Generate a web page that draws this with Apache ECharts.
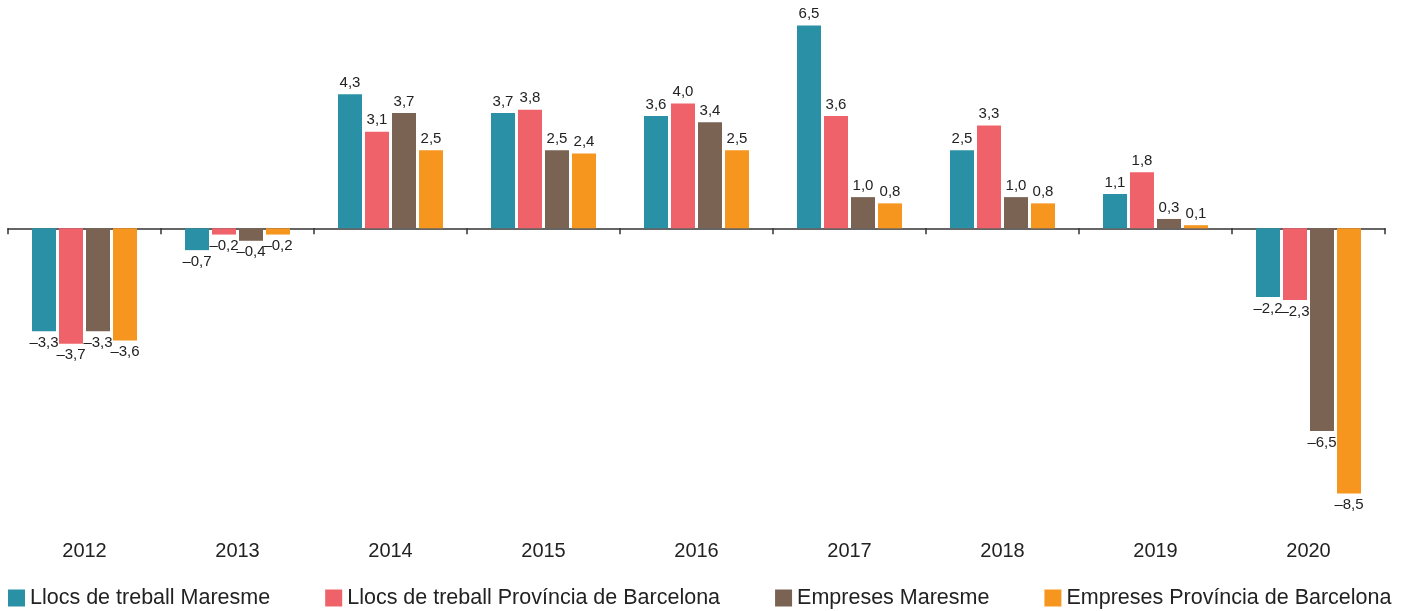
<!DOCTYPE html>
<html><head><meta charset="utf-8">
<script src="https://cdn.jsdelivr.net/npm/echarts@6/dist/echarts.min.js"></script>
<style>html,body{margin:0;padding:0;background:#fff}#c{width:1402px;height:611px}</style>
</head><body><div id="c"></div>
<script>
const years = ['2012','2013','2014','2015','2016','2017','2018','2019','2020'];
const seriesNames = ['Llocs de treball Maresme','Llocs de treball Província de Barcelona','Empreses Maresme','Empreses Província de Barcelona'];
const llocsMaresme = [-3.3,-0.7,4.3,3.7,3.6,6.5,2.5,1.1,-2.2];
const llocsBarcelona = [-3.7,-0.2,3.1,3.8,4.0,3.6,3.3,1.8,-2.3];
const empresesMaresme = [-3.3,-0.4,3.7,2.5,3.4,1.0,1.0,0.3,-6.5];
const empresesBarcelona = [-3.6,-0.2,2.5,2.4,2.5,0.8,0.8,0.1,-8.5];
const colors = ['#2a90a5','#f0626a','#7a6353','#f6961e'];

const FONT = '"Liberation Sans", Arial, Helvetica, sans-serif';
function fmt(v){ const s = Math.abs(v).toFixed(1).replace('.', ','); return v < 0 ? '\u2013' + s : s; }
function mk(name, arr, color){
  return {
    name, type:'bar', xAxisIndex:0, barWidth:24, barGap:'12.5%',
    itemStyle:{color},
    data: arr.map(v => ({value:v, label:{position: v < 0 ? 'bottom' : 'top'}})),
    label:{show:true, formatter:p=>fmt(p.value), fontSize:15, color:'#222', fontFamily:FONT, distance:4},
    animation:false
  };
}
const chart = echarts.init(document.getElementById('c'));
chart.setOption({
  animation:false,
  grid:{left:8, right:17, top:10, height:499, containLabel:false, outerBoundsMode:'none'},
  legend:{
    bottom:2, left:8, padding:0, icon:'rect', itemWidth:17, itemHeight:17, itemGap:55,
    textStyle:{fontSize:21.5, color:'#222', fontFamily:FONT},
    data: seriesNames
  },
  xAxis:[
    {type:'category', data:years, position:'bottom',
     axisLine:{show:false, onZero:false}, axisTick:{show:false},
     axisLabel:{fontSize:20, color:'#222', fontFamily:FONT, margin:32}},
    {type:'category', data:years, position:'bottom',
     axisLine:{show:true, onZero:true, lineStyle:{color:'#333', width:1.5}},
     axisTick:{show:true, length:6, lineStyle:{color:'#333', width:1.5}},
     axisLabel:{show:false}}
  ],
  yAxis:{type:'value', min:-9, max:7, show:false, splitLine:{show:false}},
  series:[
    mk(seriesNames[0], llocsMaresme, colors[0]),
    mk(seriesNames[1], llocsBarcelona, colors[1]),
    mk(seriesNames[2], empresesMaresme, colors[2]),
    mk(seriesNames[3], empresesBarcelona, colors[3])
  ]
});
</script></body></html>
